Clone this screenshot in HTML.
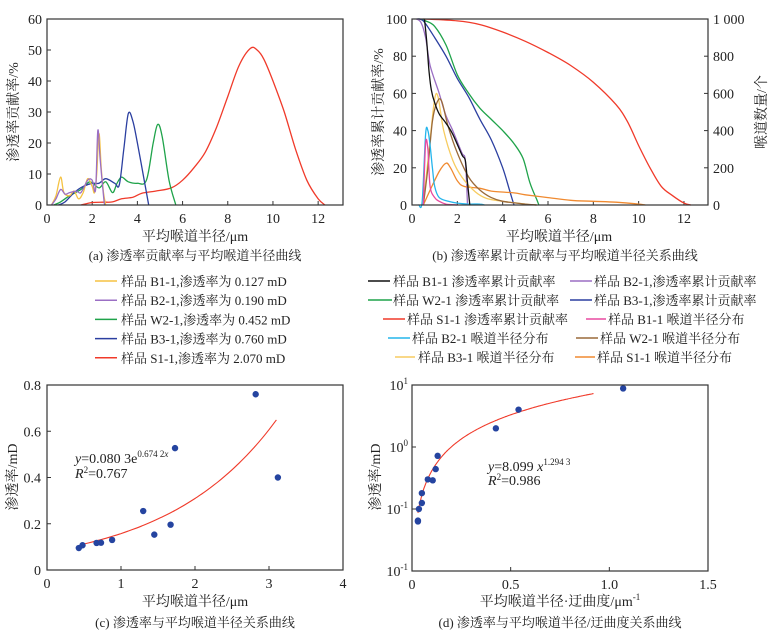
<!DOCTYPE html>
<html><head><meta charset="utf-8">
<style>
body{margin:0;background:#fff;}
svg{display:block;font-family:"Liberation Serif","Noto Serif CJK SC",serif;}
.t{font-size:14px;fill:#222;}
.c{font-size:13px;fill:#222;}
</style></head>
<body>
<svg id="fig" width="773" height="640" viewBox="0 0 773 640" xmlns="http://www.w3.org/2000/svg"></svg>
<script>
// ---------- DATA ----------
// Panel (a): permeability contribution (%) vs mean throat radius (um)
const aS1x=[1.5,2,2.5,2.9,3.3,3.8,4.2,4.8,5.5,6,6.5,7,7.5,8,8.5,9,9.3,9.6,10,10.5,11,11.5,12,12.3];
const aS1y=[0,0.8,0.9,1,2,2.5,3.8,4.5,5.5,8,12,17,25,35,45,50.5,50,47,40,30,18,8,2,0];
const aB3x=[0.5,0.8,1.2,1.6,2,2.3,2.6,3,3.2,3.4,3.6,3.8,4,4.3,4.5];
const aB3y=[0,1,4,6,7,7,8.5,7,6.5,18,29.5,27,20,8,0];
const aW2x=[0.3,0.6,1,1.5,1.9,2.3,2.6,2.9,3.1,3.3,3.6,4,4.4,4.7,4.9,5.1,5.4,5.7];
const aW2y=[0,1,3,5,7.5,5.5,7.5,4,7,9,7.5,7,8,20,26,22,8,0];
const aB1x=[0.2,0.4,0.6,0.75,1,1.2,1.4,1.6,1.8,2,2.1,2.2,2.3,2.4,2.5,2.6];
const aB1y=[0,3,9,4,3,4.5,2,4,8.5,6,4,10,23,12,4,0];
const aB2x=[0.2,0.4,0.6,0.8,1,1.3,1.5,1.8,2,2.15,2.25,2.35,2.5,2.55];
const aB2y=[0,2,5,3.5,4,4.5,4,8,8,5,24,15,3,0];
// Panel (b): cumulative contribution (%) and throat count
const bS1x=[0.5,2,3,4,5,6,7,8,9,9.5,10,10.5,11,11.5,12,12.3];
const bS1y=[100,99,97,93,88,82,75,66,54,45,32,20,10,5,1,0];
const bW2x=[0.3,0.6,1,1.5,2,2.5,3,3.5,4,4.5,4.9,5.2,5.5,5.6];
const bW2y=[100,99,96,86,70,60,52,46,40,33,25,12,3,0];
const bB3x=[0.2,0.5,1,1.5,2,2.5,3,3.5,4,4.3,4.5];
const bB3y=[100,99,90,80,68,58,46,35,20,8,0];
const bB2x=[0.2,0.4,0.6,0.8,1.2,1.5,1.8,2.2,2.35,2.45];
const bB2y=[100,98,90,75,60,48,40,28,24,0];
const bB1x=[0.55,0.65,0.75,0.85,1,1.2,1.5,1.8,2.2,2.35,2.45,2.55];
const bB1y=[100,88,72,62,55,49,44,38,27,24,12,0];
const nB1x=[0.5,0.6,0.7,0.8,1,1.2,1.5,2];
const nB1y=[0,330,300,100,40,20,5,0];
const nB2x=[0.3,0.45,0.6,0.7,0.8,0.9,1,1.2,1.6,2,2.5,3,3.2];
const nB2y=[0,20,380,400,320,200,100,40,20,10,5,5,0];
const nW2x=[0.5,0.7,0.9,1.1,1.3,1.6,2,2.5,3,3.5,4,5,5.5];
const nW2y=[0,200,450,550,560,420,280,150,80,40,20,5,0];
const nB3x=[0.5,0.8,1,1.15,1.4,1.8,2.2,2.8,3.3,4,5,5.5];
const nB3y=[0,350,570,580,400,240,150,70,35,20,5,0];
const nS1x=[0.5,0.8,1.2,1.5,1.7,2,2.3,3,3.5,4.5,5,6,7,8,9,10,10.3];
const nS1y=[0,80,180,225,200,130,100,90,75,65,55,40,25,20,15,5,0];
// Panel (c)
const cX=[0.43,0.48,0.67,0.73,0.88,1.3,1.45,1.67,1.73,2.82,3.12];
const cY=[0.095,0.107,0.117,0.118,0.13,0.255,0.153,0.196,0.527,0.76,0.4];
const cFit=[0.0803,0.6742];
// Panel (d)
const dX=[0.03,0.03,0.035,0.05,0.05,0.08,0.105,0.12,0.13,0.425,0.54,1.07];
const dY=[0.065,0.063,0.1,0.125,0.18,0.3,0.29,0.44,0.72,2.0,4.0,8.8];
const dFit=[8.099,1.2943];
// tick labels
const aYTicks=[0,10,20,30,40,50,60];
const abXTicks=[0,2,4,6,8,10,12];
const bYTicks=[0,20,40,60,80,100];
const bY2Ticks=[0,200,400,600,800,1000];
const bY2Labels=["0","200","400","600","800","1 000"];
const cXTicks=[0,1,2,3,4];
const cYTicks=[0,0.2,0.4,0.6,0.8];
const dXTicks=[0,0.5,1.0,1.5];
const dXLabels=["0","0.5","1.0","1.5"];

// ---------- HELPERS ----------
const NS="http://www.w3.org/2000/svg";
const svg=document.getElementById('fig');
function mk(tag,attrs,parent){const e=document.createElementNS(NS,tag);for(const k in attrs)e.setAttribute(k,attrs[k]);(parent||svg).appendChild(e);return e;}
function txt(x,y,s,anchor,cls,parent,rot){const e=mk('text',{x:x,y:y,'text-anchor':anchor||'middle','class':cls||'t'},parent);if(rot)e.setAttribute('transform','rotate(-90 '+x+' '+y+')');e.textContent=s;return e;}
function lin(d0,d1,r0,r1){return v=>r0+(v-d0)/(d1-d0)*(r1-r0);}
function smooth(pts){let d='M'+pts[0][0].toFixed(1)+','+pts[0][1].toFixed(1);
 for(let i=0;i<pts.length-1;i++){const p0=pts[i-1]||pts[i],p1=pts[i],p2=pts[i+1],p3=pts[i+2]||p2;
  const c1x=p1[0]+(p2[0]-p0[0])/6,c1y=p1[1]+(p2[1]-p0[1])/6,c2x=p2[0]-(p3[0]-p1[0])/6,c2y=p2[1]-(p3[1]-p1[1])/6;
  d+=' C'+c1x.toFixed(1)+','+c1y.toFixed(1)+' '+c2x.toFixed(1)+','+c2y.toFixed(1)+' '+p2[0].toFixed(1)+','+p2[1].toFixed(1);}
 return d;}
function series(xs,ys,sx,sy,color,name,g,w){const pts=xs.map((x,i)=>[sx(x),sy(ys[i])]);
 const p=mk('path',{d:smooth(pts),fill:'none',stroke:color,'stroke-width':w||1.3},g);
 
 return p;}
function frame(x0,y0,x1,y1,g){const r=mk('rect',{x:x0,y:y0,width:x1-x0,height:y1-y0,fill:'none',stroke:'#333','stroke-width':1.2},g);
 
 }
function group(name){const g=mk('g',{});return g;}

const C={y:'#f5c242',p:'#9b6fc4',g:'#1fa34a',b:'#2b3fa0',r:'#f03a2a',k:'#111',m:'#e84aa0',cy:'#25b5ec',br:'#9a6a3a',o:'#f08a30',ly:'#f7cc60'};

// ---------- PANEL A ----------
(function(){
 const g=group('panel-a');
 const x0=47,x1=343,y0=19,y1=205;
 const sx=lin(0,13.1,x0,x1), sy=lin(0,60,y1,y0);
 aYTicks.forEach(v=>{mk('line',{x1:x0,x2:x0+4,y1:sy(v),y2:sy(v),stroke:'#333'},g);txt(x0-5,sy(v)+5,String(v),'end','t',g);});
 abXTicks.forEach(v=>{mk('line',{x1:sx(v),x2:sx(v),y1:y1,y2:y1-4,stroke:'#333'},g);txt(sx(v),y1+18,String(v),'middle','t',g);});
 series(aS1x,aS1y,sx,sy,C.r,'series-s1-1',g);
 series(aW2x,aW2y,sx,sy,C.g,'series-w2-1',g);
 series(aB3x,aB3y,sx,sy,C.b,'series-b3-1',g);
 series(aB1x,aB1y,sx,sy,C.y,'series-b1-1',g);
 series(aB2x,aB2y,sx,sy,C.p,'series-b2-1',g);
 frame(x0,y0,x1,y1,g);
 txt(18,112,'渗透率贡献率/%','middle','t',g,true);
 txt(195,241,'平均喉道半径/μm','middle','t',g);
 txt(195,260,'(a) 渗透率贡献率与平均喉道半径曲线','middle','c',g);
 const leg=[['样品 B1-1,渗透率为 0.127 mD',C.y],['样品 B2-1,渗透率为 0.190 mD',C.p],['样品 W2-1,渗透率为 0.452 mD',C.g],['样品 B3-1,渗透率为 0.760 mD',C.b],['样品 S1-1,渗透率为 2.070 mD',C.r]];
 leg.forEach((l,i)=>{const y=281+i*19.2;const lg=mk('g',{},g);
  mk('line',{x1:95,x2:117,y1:y,y2:y,stroke:l[1],'stroke-width':1.5},lg);txt(121,y+5,l[0],'start','c',lg);});
})();

// ---------- PANEL B ----------
(function(){
 const g=group('panel-b');
 const x0=412,x1=708,y0=19,y1=205;
 const sx=lin(0,13.06,x0,x1), sy=lin(0,100,y1,y0), sy2=lin(0,1000,y1,y0);
 bYTicks.forEach(v=>{mk('line',{x1:x0,x2:x0+4,y1:sy(v),y2:sy(v),stroke:'#333'},g);txt(x0-5,sy(v)+5,String(v),'end','t',g);});
 bY2Ticks.forEach((v,i)=>{mk('line',{x1:x1,x2:x1-4,y1:sy2(v),y2:sy2(v),stroke:'#333'},g);txt(x1+5,sy2(v)+5,bY2Labels[i],'start','t',g);});
 abXTicks.forEach(v=>{mk('line',{x1:sx(v),x2:sx(v),y1:y1,y2:y1-4,stroke:'#333'},g);txt(sx(v),y1+18,String(v),'middle','t',g);});
 series(bS1x,bS1y,sx,sy,C.r,'cum-s1-1',g);
 series(bW2x,bW2y,sx,sy,C.g,'cum-w2-1',g);
 series(bB3x,bB3y,sx,sy,C.b,'cum-b3-1',g);
 series(bB2x,bB2y,sx,sy,C.p,'cum-b2-1',g);
 series(nS1x,nS1y,sx,sy2,C.o,'dist-s1-1',g);
 series(nB3x,nB3y,sx,sy2,C.ly,'dist-b3-1',g);
 series(nW2x,nW2y,sx,sy2,C.br,'dist-w2-1',g);
 series(nB2x,nB2y,sx,sy2,C.cy,'dist-b2-1',g);
 series(nB1x,nB1y,sx,sy2,C.m,'dist-b1-1',g);
 series(bB1x,bB1y,sx,sy,C.k,'cum-b1-1',g);
 frame(x0,y0,x1,y1,g);
 txt(383,112,'渗透率累计贡献率/%','middle','t',g,true);
 txt(766,112,'喉道数量/个','middle','t',g,true);
 txt(559,241,'平均喉道半径/μm','middle','t',g);
 txt(565,260,'(b) 渗透率累计贡献率与平均喉道半径关系曲线','middle','c',g);
 const leg=[
  [368,390,393,281,'样品 B1-1 渗透率累计贡献率',C.k],[570,592,594,281,'样品 B2-1,渗透率累计贡献率',C.p],
  [368,392,393,300,'样品 W2-1 渗透率累计贡献率',C.g],[570,592,594,300,'样品 B3-1,渗透率累计贡献率',C.b],
  [383,405,407,319,'样品 S1-1 渗透率累计贡献率',C.r],[586,606,608,319,'样品 B1-1 喉道半径分布',C.m],
  [388,410,412,338,'样品 B2-1 喉道半径分布',C.cy],[576,598,600,338,'样品 W2-1 喉道半径分布',C.br],
  [395,415,418,357,'样品 B3-1 喉道半径分布',C.ly],[575,595,597,357,'样品 S1-1 喉道半径分布',C.o]];
 leg.forEach(l=>{const lg=mk('g',{},g);
  mk('line',{x1:l[0],x2:l[1],y1:l[3],y2:l[3],stroke:l[5],'stroke-width':1.5},lg);txt(l[2],l[3]+5,l[4],'start','c',lg);});
})();

// ---------- PANEL C ----------
(function(){
 const g=group('panel-c');
 const x0=47,x1=343,y0=385,y1=570;
 const sx=lin(0,4,x0,x1), sy=lin(0,0.8,y1,y0);
 cYTicks.forEach(v=>{mk('line',{x1:x0,x2:x0+4,y1:sy(v),y2:sy(v),stroke:'#333'},g);txt(x0-6,sy(v)+5,v===0?'0':v.toFixed(1),'end','t',g);});
 cXTicks.forEach(v=>{mk('line',{x1:sx(v),x2:sx(v),y1:y1,y2:y1-4,stroke:'#333'},g);txt(sx(v),y1+18,String(v),'middle','t',g);});
 const fx=[],fy=[];for(let x=0.5;x<=3.101;x+=0.1){fx.push(x);fy.push(cFit[0]*Math.exp(cFit[1]*x));}
 series(fx,fy,sx,sy,C.r,'trend-line',g,1.1);
 cX.forEach((x,i)=>{const c=mk('circle',{cx:sx(x),cy:sy(cY[i]),r:3.2,fill:'#2544a0'},g);
  
  });
 frame(x0,y0,x1,y1,g);
 const eq=mk('text',{x:75,y:463,'class':'t'},g);
 eq.innerHTML='<tspan font-style="italic">y</tspan>=0.080 3e<tspan dy="-6" font-size="9">0.674 2<tspan font-style="italic">x</tspan></tspan>';
 const r2=mk('text',{x:75,y:478,'class':'t'},g);
 r2.innerHTML='<tspan font-style="italic">R</tspan><tspan dy="-5" font-size="9">2</tspan><tspan dy="5">=0.767</tspan>';
 txt(17,477,'渗透率/mD','middle','t',g,true);
 txt(195,606,'平均喉道半径/μm','middle','t',g);
 txt(195,627,'(c) 渗透率与平均喉道半径关系曲线','middle','c',g);
})();

// ---------- PANEL D ----------
(function(){
 const g=group('panel-d');
 const x0=412,x1=708,y0=385,y1=571;
 const sx=lin(0,1.5,x0,x1), ly=lin(-2,1,y1,y0), sy=v=>ly(Math.log10(v));
 const dec=[[1,'1'],[0,'0'],[-1,'-1'],[-2,'-1']];
 dec.forEach(d=>{const y=ly(d[0]);mk('line',{x1:x0,x2:x0+4,y1:y,y2:y,stroke:'#333'},g);
  const t=mk('text',{x:x0-4,y:y+5,'text-anchor':'end','class':'t'},g);t.innerHTML='10<tspan dy="-6" font-size="9">'+d[1]+'</tspan>';});
 dXTicks.forEach((v,i)=>{mk('line',{x1:sx(v),x2:sx(v),y1:y1,y2:y1-4,stroke:'#333'},g);txt(sx(v),y1+18,dXLabels[i],'middle','t',g);});
 const fx=[],fy=[];for(let x=0.03;x<=0.921;x+=0.01){fx.push(x);fy.push(dFit[0]*Math.pow(x,dFit[1]));}
 series(fx,fy,sx,sy,C.r,'trend-line',g,1.1);
 dX.forEach((x,i)=>{const c=mk('circle',{cx:sx(x),cy:sy(dY[i]),r:3.2,fill:'#2544a0'},g);
  
  });
 frame(x0,y0,x1,y1,g);
 const eq=mk('text',{x:488,y:471,'class':'t'},g);
 eq.innerHTML='<tspan font-style="italic">y</tspan>=8.099 <tspan font-style="italic">x</tspan><tspan dy="-6" font-size="9">1.294 3</tspan>';
 const r2=mk('text',{x:488,y:485,'class':'t'},g);
 r2.innerHTML='<tspan font-style="italic">R</tspan><tspan dy="-5" font-size="9">2</tspan><tspan dy="5">=0.986</tspan>';
 txt(380,477,'渗透率/mD','middle','t',g,true);
 const xt=mk('text',{x:560,y:606,'text-anchor':'middle','class':'t'},g);
 xt.innerHTML='平均喉道半径·迂曲度/μm<tspan dy="-6" font-size="9">-1</tspan>';
 txt(560,627,'(d) 渗透率与平均喉道半径/迂曲度关系曲线','middle','c',g);
})();
</script>
</body></html>
